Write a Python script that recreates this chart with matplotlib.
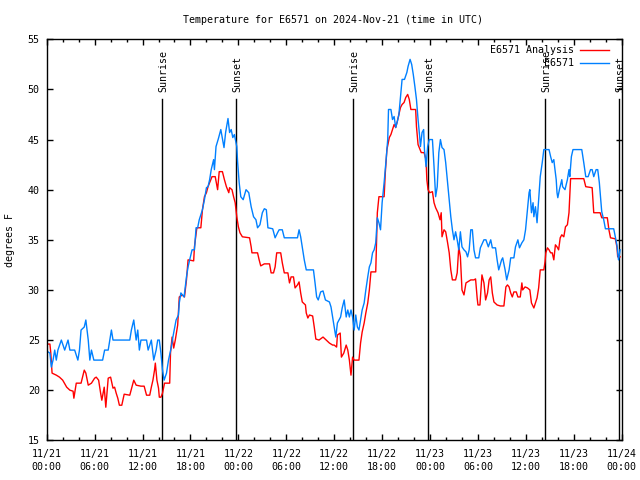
import matplotlib
matplotlib.use("Agg")
import matplotlib.pyplot as plt
from matplotlib.ticker import MultipleLocator

plt.rcParams['font.family'] = ['DejaVu Sans Mono']
plt.rcParams['font.size'] = 7.2

# hours since 2024-11-21 00:00 UTC, temperatures in F
obs_hours = [0.0, 0.4, 0.58, 0.79, 1.0, 1.2, 1.4, 1.83, 2.25, 2.67, 2.9, 3.5, 3.9, 4.1, 4.3, 4.7, 4.9,
             5.2, 5.4, 5.6, 5.9, 7.0, 7.25, 7.7, 7.9, 8.1, 8.3, 10.4, 10.6, 10.9, 11.2, 11.4, 11.6,
             11.8, 12.5, 12.7, 13.1, 13.4, 13.7, 13.9, 14.1, 14.3, 14.5, 14.7, 15.0, 15.25, 15.6,
             15.8, 16.2, 16.5, 16.6, 16.8, 17.2, 17.5, 17.7, 17.9, 18.2, 18.5, 18.7, 18.9, 19.1,
             19.5, 19.75, 20.0, 20.2, 20.4, 20.6, 20.9, 21.0, 21.2, 21.5, 21.8, 22.2, 22.4, 22.7,
             22.9, 23.1, 23.3, 23.5, 23.6, 23.8, 23.9, 24.1, 24.3, 24.6, 24.96, 25.3, 25.6, 25.9,
             26.2, 26.4, 26.7, 27.0, 27.25, 27.5, 27.7, 28.3, 28.6, 28.9, 29.1, 29.5, 29.75, 31.4,
             31.6, 31.8, 32.0, 32.25, 32.5, 33.4, 33.6, 33.8, 34.0, 34.3, 34.6, 34.9, 35.4, 35.6,
             35.8, 36.0, 36.2, 36.4, 36.6, 36.8, 37.0, 37.25, 37.5, 37.7, 37.9, 38.1, 38.3, 38.5,
             38.7, 38.9, 39.1, 39.3, 39.5, 39.75, 39.96, 40.2, 40.4, 40.6, 40.8, 41.0, 41.2, 41.4,
             41.6, 41.8, 42.0, 42.25, 42.5, 42.7, 42.8, 43.1, 43.3, 43.5, 43.7, 43.9, 44.1, 44.3,
             44.5, 44.8, 45.1, 45.25, 45.5, 45.7, 45.9, 46.1, 46.3, 46.5, 46.7, 46.8, 47.0, 47.2,
             47.3, 47.5, 47.7, 47.9, 48.3, 48.5, 48.7, 48.9, 49.1, 49.3, 49.5, 49.75, 49.96, 50.2,
             50.4, 50.6, 50.8, 51.0, 51.2, 51.4, 51.6, 51.8, 52.0, 52.25, 52.5, 52.7, 52.9, 53.1,
             53.3, 53.5, 53.7, 54.1, 54.3, 54.75, 55.0, 55.3, 55.6, 55.8, 56.2, 56.4, 56.6, 56.96,
             57.1, 57.4, 57.6, 57.9, 58.1, 58.5, 58.7, 59.0, 59.2, 59.5, 59.75, 59.96, 60.2, 60.4,
             60.5, 60.7, 60.9, 61.0, 61.2, 61.4, 61.6, 61.8, 62.05, 62.25, 62.9, 63.1, 63.3, 63.5,
             63.6, 63.8, 63.9, 64.0, 64.2, 64.5, 64.6, 64.9, 65.2, 65.4, 65.5, 65.7, 65.9, 67.0,
             67.25, 67.5, 67.8, 68.1, 68.3, 68.5, 68.8, 69.0, 69.2, 69.5, 69.75, 69.96, 70.2, 71.0,
             71.2, 71.4, 71.6, 71.8]
obs_temps = [23.9, 23.7, 22.3, 23.0, 24.0, 23.0, 24.0, 25.0, 24.0, 25.0, 24.0, 24.0, 23.0, 24.0, 26.0, 26.3, 27.0,
             25.0, 23.0, 24.0, 23.0, 23.0, 24.0, 24.0, 25.0, 26.0, 25.0, 25.0, 26.0, 27.0, 25.0, 26.0, 24.0,
             25.0, 25.0, 24.0, 25.0, 23.0, 24.0, 25.0, 25.0, 23.7, 22.0, 21.0, 21.7, 23.0, 24.3,
             25.3, 27.0, 27.5, 28.7, 29.7, 29.3, 31.3, 32.3, 33.0, 34.0, 34.0, 36.2, 36.2, 37.0,
             38.0, 39.0, 40.2, 40.3, 41.0, 42.0, 43.0, 42.0, 44.3, 45.1, 46.0, 44.2, 45.7, 47.1,
             45.7, 46.0, 45.2, 45.5, 45.1, 44.3, 42.8, 40.7, 39.3, 39.0, 40.0, 39.7, 38.3, 37.3,
             37.0, 36.2, 36.5, 37.7, 38.1, 38.0, 36.2, 36.1, 35.2, 35.7, 36.0, 36.0, 35.2, 35.2,
             36.0, 35.3, 34.3, 33.0, 32.0, 32.0, 30.7, 29.3, 29.0, 29.8, 29.9, 29.0, 28.8, 28.3,
             27.3, 26.3, 25.3, 26.7, 27.0, 27.3, 28.2, 29.0, 27.3, 28.0, 27.3, 28.0, 27.3, 26.0,
             27.5, 26.3, 26.0, 27.0, 28.0, 28.7, 30.0, 31.3, 32.3, 32.7, 33.7, 34.0, 34.7, 37.2,
             36.7, 36.0, 38.7, 40.7, 43.0, 45.0, 48.0, 48.0, 47.0, 47.3, 46.2, 46.8, 47.5, 49.3,
             51.0, 51.0, 51.7, 52.3, 53.0, 52.5, 51.5, 50.3, 49.0, 47.0, 45.3, 44.3, 45.7, 46.0,
             44.0, 42.3, 44.3, 45.0, 45.0, 42.3, 39.3, 40.3, 43.7, 45.0, 44.2, 44.0, 42.7, 40.7,
             39.0, 37.3, 36.0, 35.0, 35.8, 35.0, 34.0, 35.8, 34.3, 34.0, 33.8, 33.3, 34.0, 36.0,
             36.0, 34.0, 33.2, 33.2, 34.2, 35.0, 35.0, 34.3, 35.0, 34.2, 34.2, 33.0, 32.0, 33.0,
             33.2, 32.0, 31.0, 32.0, 33.2, 33.2, 34.3, 35.0, 34.2, 34.7, 35.0, 36.0, 38.0, 39.7,
             40.0, 37.7, 38.7, 37.3, 38.3, 36.7, 39.0, 41.3, 42.7, 44.0, 44.0, 43.3, 42.7, 43.0,
             42.3, 41.0, 39.7, 39.2, 40.0, 41.0, 40.3, 40.0, 41.0, 42.0, 41.3, 43.3, 44.0, 44.0,
             42.7, 41.3, 41.3, 42.0, 42.0, 41.3, 42.0, 42.0, 40.7, 37.8, 37.0, 36.1, 36.1, 36.1,
             35.3, 34.5, 33.0, 34.0]

ana_hours = [0.0, 0.4, 0.5, 0.67, 1.2, 1.6, 2.0, 2.5, 2.9, 3.3, 3.4, 3.7, 4.3, 4.7, 4.9, 5.2, 5.6, 6.0,
             6.2, 6.5, 6.75, 6.9, 7.2, 7.4, 7.7, 8.0, 8.3, 8.5, 8.7, 8.9, 9.1, 9.4, 9.7, 10.4, 10.7,
             10.9, 11.2, 11.8, 12.2, 12.5, 12.9, 13.1, 13.3, 13.5, 13.6, 13.8, 14.0, 14.1, 14.3,
             14.5, 14.75, 15.4, 15.5, 15.7, 15.9, 16.1, 16.4, 16.6, 17.0, 17.25, 17.5, 17.7, 18.4,
             18.5, 18.8, 19.3, 19.5, 19.75, 20.0, 20.2, 20.4, 20.7, 21.1, 21.4, 21.6, 22.0, 22.25,
             22.5, 22.8, 22.9, 23.2, 23.4, 23.6, 23.8, 24.0, 24.2, 24.5, 25.4, 25.6, 25.7, 26.4,
             26.6, 26.8, 27.25, 27.9, 28.1, 28.4, 28.6, 28.8, 29.3, 29.5, 29.75, 30.2, 30.4, 30.6,
             30.9, 31.1, 31.4, 31.6, 31.8, 32.0, 32.4, 32.5, 32.7, 32.9, 33.3, 33.5, 33.7, 34.1,
             34.6, 35.0, 35.4, 35.8, 36.0, 36.3, 36.4, 36.75, 36.9, 37.2, 37.5, 37.7, 37.9, 38.1,
             38.3, 38.5, 39.1, 39.3, 39.5, 39.75, 39.96, 40.2, 40.4, 40.6, 41.2, 41.4, 41.6, 42.25,
             42.4, 42.6, 42.9, 43.1, 43.3, 43.5, 43.7, 43.9, 44.1, 44.3, 44.5, 44.75, 44.96, 45.2,
             45.4, 45.6, 46.2, 46.3, 46.5, 46.75, 46.9, 47.25, 47.5, 47.6, 47.75, 47.96, 48.3, 48.5,
             48.7, 49.0, 49.25, 49.4, 49.5, 49.75, 49.96, 50.2, 50.4, 50.6, 50.8, 51.2, 51.4, 51.6,
             51.8, 52.0, 52.25, 52.5, 52.7, 53.1, 53.5, 53.7, 53.9, 54.0, 54.25, 54.4, 54.5, 54.75,
             54.96, 55.2, 55.4, 55.6, 55.8, 56.0, 56.4, 56.8, 57.25, 57.5, 57.7, 57.9, 58.1, 58.3,
             58.5, 58.8, 59.0, 59.3, 59.5, 59.6, 59.9, 60.2, 60.5, 60.7, 61.0, 61.2, 61.4, 61.6,
             61.8, 62.25, 62.4, 62.5, 62.7, 62.9, 63.1, 63.3, 63.5, 63.7, 63.9, 64.1, 64.3, 64.5,
             64.75, 64.96, 65.2, 65.4, 65.5, 65.6, 67.25, 67.5, 68.3, 68.5, 69.3, 69.5, 70.2, 70.4,
             70.6, 71.2, 71.4, 71.5, 71.8]
ana_temps = [24.6, 24.6, 23.8, 21.7, 21.5, 21.3, 21.0, 20.3, 20.0, 19.9, 19.2, 20.7, 20.7, 22.0, 21.7, 20.5, 20.7, 21.2,
             21.3, 21.0, 19.7, 19.0, 20.3, 18.3, 21.2, 21.3, 20.2, 20.3, 19.7, 19.2, 18.5, 18.5, 19.6, 19.5, 20.4,
             21.0, 20.5, 20.4, 20.4, 19.5, 19.5, 20.3, 21.0, 22.0, 22.7, 21.0, 20.2, 19.3, 19.3,
             19.7, 20.7, 20.7, 23.7, 25.3, 24.2, 25.0, 26.5, 29.3, 29.5, 29.3, 31.0, 33.0, 32.9,
             34.3, 36.2, 36.2, 38.0, 39.3, 39.7, 40.3, 40.7, 41.3, 41.3, 40.0, 41.8, 41.8, 41.0,
             40.3, 39.7, 40.2, 40.0, 39.3, 38.7, 37.3, 36.3, 35.7, 35.3, 35.2, 34.3, 33.7, 33.7,
             33.0, 32.4, 32.6, 32.6, 31.7, 31.7, 32.3, 33.7, 33.7, 32.7, 31.7, 31.7, 30.7, 31.3,
             31.3, 30.2, 30.5, 30.8, 29.7, 28.8, 28.5, 27.7, 27.2, 27.5, 27.4, 26.3, 25.1, 25.0,
             25.3, 25.0, 24.7, 24.5, 24.5, 24.3, 25.5, 25.7, 23.3, 23.7, 24.5, 24.0, 23.0, 21.5,
             23.3, 23.0, 23.0, 24.7, 25.8, 26.7, 27.7, 28.7, 30.0, 31.8, 31.8, 37.7, 39.3, 39.3,
             41.7, 44.0, 45.2, 45.5, 46.0, 46.5, 46.2, 46.8, 47.5, 48.2, 48.5, 48.7, 49.2, 49.5,
             49.0, 48.0, 48.0, 46.3, 44.5, 44.0, 43.7, 43.7, 43.0, 41.0, 40.0, 39.7, 39.8, 38.7,
             38.2, 37.7, 37.0, 37.7, 35.3, 36.0, 35.8, 34.7, 33.7, 32.0, 31.0, 31.0, 31.7, 34.3,
             33.3, 30.0, 29.5, 30.7, 30.8, 31.0, 31.0, 31.1, 29.2, 28.5, 28.5, 30.3, 31.5, 30.7,
             29.0, 29.7, 31.0, 31.3, 29.7, 28.8, 28.5, 28.4, 28.4, 30.3, 30.5, 30.3, 29.7, 29.3,
             29.8, 29.8, 29.3, 29.3, 30.7, 30.0, 30.3, 30.2, 30.0, 28.7, 28.2, 28.7, 29.2, 30.2,
             32.0, 32.0, 32.8, 33.7, 34.2, 34.0, 33.7, 33.7, 33.0, 34.5, 34.3, 34.0, 35.2, 35.5,
             35.3, 36.3, 36.5, 37.7, 39.3, 41.1, 41.1, 40.3, 40.2, 37.7, 37.7, 37.2, 37.2, 36.0,
             35.2, 35.1, 34.3, 33.3, 33.3]

sun_hours = [14.48, 23.74, 38.39, 47.78, 62.43, 71.70]
sun_labels = ["Sunrise", "Sunset", "Sunrise", "Sunset", "Sunrise", "Sunset"]

tick_hours = [0, 6, 12, 18, 24, 30, 36, 42, 48, 54, 60, 66, 72]
tick_labels = ["11/21\n00:00", "11/21\n06:00", "11/21\n12:00", "11/21\n18:00",
               "11/22\n00:00", "11/22\n06:00", "11/22\n12:00", "11/22\n18:00",
               "11/23\n00:00", "11/23\n06:00", "11/23\n12:00", "11/23\n18:00",
               "11/24\n00:00"]

red = "#ff0000"
blue = "#0080ff"

fig = plt.figure(figsize=(6.4, 4.8), dpi=100)
ax = fig.add_axes([0.073, 0.0827, 0.8984, 0.8354])

for h, lab in zip(sun_hours, sun_labels):
    ax.plot([h, h], [15, 49.05], color="black", lw=1.0)
    ax.text(h + 0.1, 49.75, lab, rotation=90, ha="center", va="bottom")

ax.plot(ana_hours, ana_temps, color=red, lw=1.0)
ax.plot(obs_hours, obs_temps, color=blue, lw=1.0)

# gnuplot-style key: text on the left, sample line on the right
ax.text(0.917, 0.9733, "E6571 Analysis", transform=ax.transAxes, ha="right", va="center")
ax.plot([0.927, 0.9786], [0.9733, 0.9733], color=red, lw=1.0, transform=ax.transAxes)
ax.text(0.917, 0.941, "E6571", transform=ax.transAxes, ha="right", va="center")
ax.plot([0.927, 0.9786], [0.941, 0.941], color=blue, lw=1.0, transform=ax.transAxes)

ax.set_xlim(0, 72)
ax.set_ylim(15, 55)
ax.set_xticks(tick_hours)
ax.set_xticklabels(tick_labels, linespacing=1.45)
ax.xaxis.set_minor_locator(MultipleLocator(2))
ax.yaxis.set_major_locator(MultipleLocator(5))
ax.tick_params(which="both", direction="in", top=True, right=True, width=1.0)
ax.tick_params(which="major", length=4.5)
ax.tick_params(which="minor", length=2.5)
ax.tick_params(axis="x", pad=6)
ax.tick_params(axis="y", pad=5)
for s in ax.spines.values():
    s.set_linewidth(1.0)

fig.text(0.521, 1 - 20 / 480, "Temperature for E6571 on 2024-Nov-21 (time in UTC)",
         ha="center", va="center")
fig.text(10 / 640, 0.5, "degrees F", rotation=90, ha="center", va="center")

fig.savefig("out.png", dpi=100)
